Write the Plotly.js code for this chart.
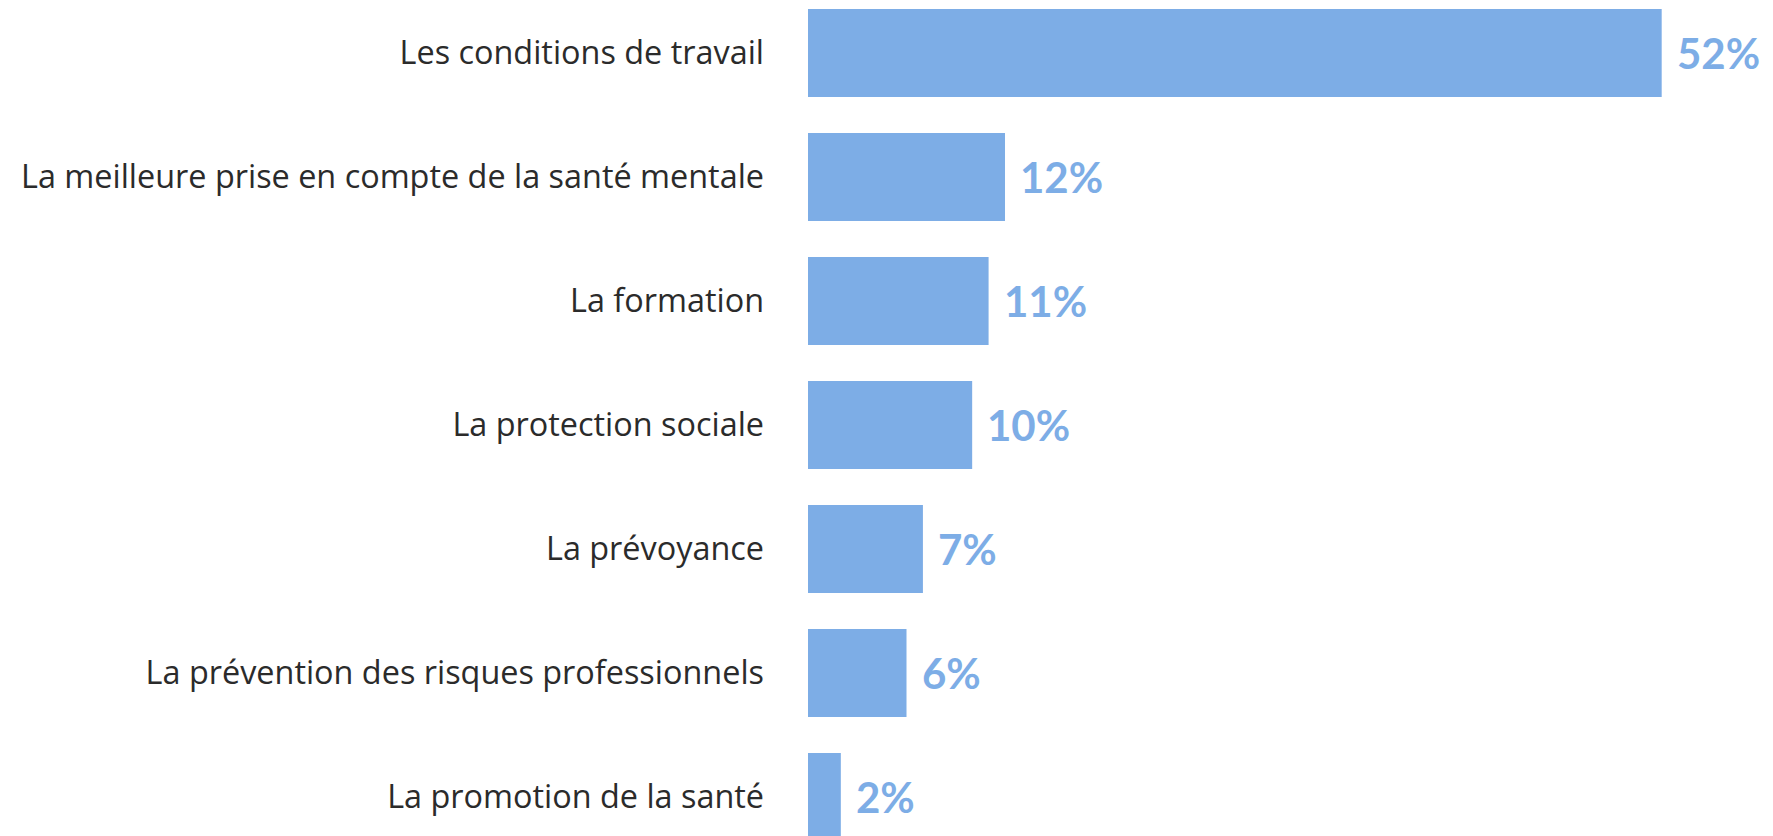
<!DOCTYPE html>
<html>
<head>
<meta charset="utf-8">
<script src="https://cdn.plot.ly/plotly-3.0.1.min.js"></script>
<style>
html,body{margin:0;padding:0;background:#fff;}
#chart{width:1773px;height:836px;}
</style>
</head>
<body>
<div id="chart"></div>
<script>
const categories = [
  "Les conditions de travail",
  "La meilleure prise en compte de la santé mentale",
  "La formation",
  "La protection sociale",
  "La prévoyance",
  "La prévention des risques professionnels",
  "La promotion de la santé"
];
const values = [52, 12, 11, 10, 7, 6, 2];
const valueLabels = ["52%", "12%", "11%", "10%", "7%", "6%", "2%"];

const barColor = "#7DADE6";

const trace = {
  type: "bar",
  orientation: "h",
  x: values,
  y: categories,
  marker: {color: barColor},
  hoverinfo: "skip"
};

const annotations = values.map((v, i) => ({
  x: v,
  y: categories[i],
  xref: "x",
  yref: "y",
  text: valueLabels[i],
  showarrow: false,
  xanchor: "left",
  yanchor: "middle",
  xshift: 13,
  font: {family: "Lato, sans-serif", size: 42, color: barColor, weight: "bold"}
}));

const layout = {
  width: 1773,
  height: 836,
  margin: {l: 808, r: 0, t: 0, b: 0, pad: 0},
  paper_bgcolor: "#ffffff",
  plot_bgcolor: "#ffffff",
  bargap: 0.29,
  showlegend: false,
  xaxis: {
    range: [0, 58.78],
    visible: false,
    showgrid: false,
    zeroline: false,
    fixedrange: true
  },
  yaxis: {
    type: "category",
    categoryorder: "array",
    categoryarray: categories,
    range: [6.3145, -0.4274],
    showgrid: false,
    zeroline: false,
    showline: false,
    ticks: "",
    ticklabelstandoff: 43,
    tickfont: {family: "'Open Sans', sans-serif", size: 32.4, color: "#2b2b2b"},
    fixedrange: true
  },
  annotations: annotations
};

Plotly.newPlot("chart", [trace], layout, {displayModeBar: false, staticPlot: true});
</script>
</body>
</html>
